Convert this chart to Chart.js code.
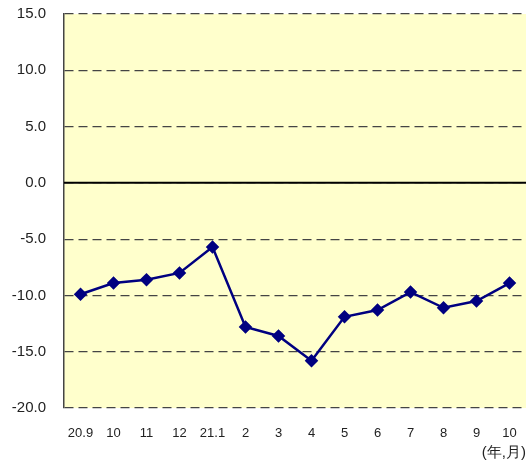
<!DOCTYPE html>
<html>
<head>
<meta charset="utf-8">
<script src="https://cdn.jsdelivr.net/npm/chart.js@4.4.1/dist/chart.umd.min.js"></script>
<style>
  html, body { margin: 0; padding: 0; background: #fff; }
  #wrap { width: 526px; height: 466px; }
</style>
</head>
<body>
<div id="wrap"><canvas id="chart"></canvas></div>
<script>
// 年月ラベルと値
const months = ["20.9", "10", "11", "12", "21.1", "2", "3", "4", "5", "6", "7", "8", "9", "10"];
const values = [-9.9, -8.9, -8.6, -8.0, -5.7, -12.8, -13.6, -15.8, -11.9, -11.3, -9.7, -11.1, -10.5, -8.9];
const yTicks = [15, 10, 5, 0, -5, -10, -15, -20];

// プロットエリアの背景と0の線
const plotArea = {
  id: "plotArea",
  beforeDraw: (chart) => {
    const { ctx, chartArea } = chart;
    ctx.save();
    ctx.fillStyle = "#ffffcc";
    ctx.fillRect(chartArea.left, chartArea.top, chartArea.right - chartArea.left, chartArea.bottom - chartArea.top);
    ctx.restore();
  },
  beforeDatasetsDraw: (chart) => {
    const { ctx, chartArea, scales } = chart;
    const y0 = scales.y.getPixelForValue(0);
    ctx.save();
    ctx.strokeStyle = "#000";
    ctx.lineWidth = 2;
    ctx.beginPath();
    ctx.moveTo(chartArea.left, y0);
    ctx.lineTo(chartArea.right, y0);
    ctx.stroke();
    ctx.restore();
  },
};

new Chart(document.getElementById("chart").getContext("2d"), {
  type: "line",
  data: {
    labels: months,
    datasets: [
      {
        data: values,
        borderColor: "#000080",
        backgroundColor: "#000080",
        borderWidth: 2.5,
        pointStyle: "rectRot",
        pointRadius: 5,
        tension: 0,
      },
    ],
  },
  options: {
    responsive: true,
    maintainAspectRatio: false,
    animation: false,
    layout: { autoPadding: false, padding: { top: 14, right: 0, left: 0, bottom: 0 } },
    plugins: {
      legend: { display: false },
      tooltip: { enabled: false },
    },
    scales: {
      x: {
        offset: true,
        grid: { display: false, drawTicks: false },
        border: { display: false },
        ticks: {
          color: "#222",
          font: { family: "'Liberation Sans', Arial", size: 13 },
          padding: 18,
          maxRotation: 0,
          autoSkip: false,
        },
        title: {
          display: true,
          text: "(年,月)",
          align: "end",
          color: "#222",
          font: { family: "'Liberation Sans', Arial", size: 15 },
          padding: { top: 0, bottom: 4 },
        },
        afterFit: (scale) => {
          scale.height = 58;
          scale.paddingLeft = 0;
          scale.paddingRight = 0;
        },
      },
      y: {
        min: -20,
        max: 15,
        afterBuildTicks: (scale) => { scale.ticks = yTicks.map((v) => ({ value: v })); },
        grid: { color: "#444", lineWidth: 1.2, drawTicks: false },
        border: { display: true, color: "#444", width: 1.5, dash: [9, 5] },
        ticks: {
          color: "#222",
          font: { family: "'Liberation Sans', Arial", size: 15 },
          padding: 18,
          callback: (v) => Number(v).toFixed(1),
        },
        afterFit: (scale) => {
          scale.width = 64;
          scale.paddingTop = 0;
          scale.paddingBottom = 0;
        },
      },
    },
  },
  plugins: [plotArea],
});
</script>
</body>
</html>
